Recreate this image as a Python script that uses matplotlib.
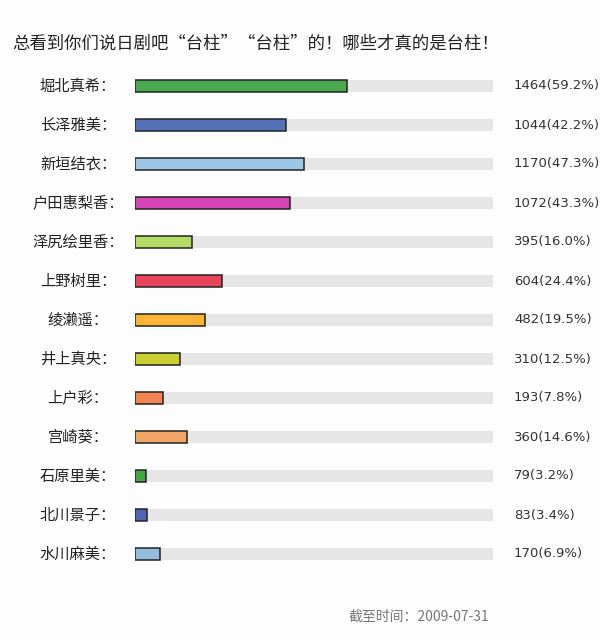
import matplotlib
matplotlib.use("Agg")
import matplotlib.pyplot as plt

plt.rcParams["font.family"] = ["Noto Sans CJK SC", "DejaVu Sans"]

names = ["堀北真希：", "长泽雅美：", "新垣结衣：", "户田惠梨香：", "泽尻绘里香：", "上野树里：",
         "绫濑遥：", "井上真央：", "上户彩：", "宫崎葵：", "石原里美：", "北川景子：", "水川麻美："]
votes = [1464, 1044, 1170, 1072, 395, 604, 482, 310, 193, 360, 79, 83, 170]
percents = [59.2, 42.2, 47.3, 43.3, 16.0, 24.4, 19.5, 12.5, 7.8, 14.6, 3.2, 3.4, 6.9]
colors = ["#4aa84e", "#5472b8", "#9cc8e6", "#d444b4", "#b4dc64", "#e8445c",
          "#f8b434", "#c8d034", "#f08452", "#f0a466", "#44a444", "#5064b4", "#94bcdc"]

W, H = 600, 640
fig = plt.figure(figsize=(W / 100, H / 100), dpi=100)
fig.patch.set_facecolor("#fdfdfe")
ax = fig.add_axes([135 / W, (H - 573.5) / H, 358 / W, 507 / H])
ax.set_xlim(0, 100)
ax.set_ylim(len(names) - 0.5, -0.5)
ax.axis("off")

ys = range(len(names))
ax.barh(ys, [100] * len(names), height=0.33, color="#e6e6e6", linewidth=0)
ax.barh(ys, percents, height=0.33, color=colors, edgecolor="#222222", linewidth=1.1)

for y, n, v, p in zip(ys, names, votes, percents):
    ax.annotate(n, (0, y), xytext=(-57, 0), textcoords="offset pixels",
                ha="center", va="center", fontsize=11, color="#222222")
    ax.annotate(f"{v}({p:.1f}%)", (100, y), xytext=(21, 0), textcoords="offset pixels",
                ha="left", va="center", fontsize=9.5, color="#333333", family="DejaVu Sans")

fig.text(12 / W, 1 - 44 / H, "总看到你们说日剧吧“台柱”“台柱”的！哪些才真的是台柱！",
         ha="left", va="center", fontsize=12.5, color="#222222")
fig.text(348 / W, 1 - 617 / H, "截至时间：2009-07-31", ha="left", va="center",
         fontsize=10, color="#777777")

fig.savefig("out.png", dpi=100, facecolor=fig.get_facecolor())
